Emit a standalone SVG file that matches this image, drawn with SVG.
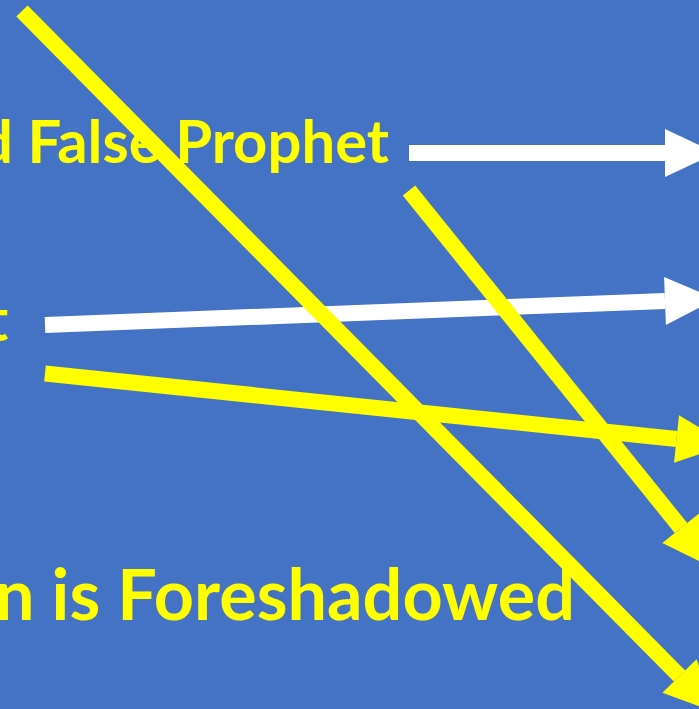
<svg xmlns="http://www.w3.org/2000/svg" width="699" height="709" viewBox="0 0 699 709">
<style>
.lbl{font-family:"Lato","Open Sans","Liberation Sans",sans-serif;font-weight:bold;fill:#FFFF00}
.w{stroke:#FFFFFF;stroke-width:16;fill:none}
.y{stroke:#FFFF00;stroke-width:16;fill:none}
</style>
<defs>
<marker id="hw" markerWidth="51" markerHeight="48" refX="0" refY="24" orient="auto" markerUnits="userSpaceOnUse" overflow="visible"><path d="M0,0 L51,24 L0,48 Z" fill="#FFFFFF"/></marker>
<marker id="hy" markerWidth="51" markerHeight="48" refX="0" refY="24" orient="auto" markerUnits="userSpaceOnUse" overflow="visible"><path d="M0,0 L51,24 L0,48 Z" fill="#FFFF00"/></marker>
</defs>
<rect width="699" height="709" fill="#4472C4"/>
<g id="label-false-prophet"><text class="lbl" x="-21" y="163" font-size="60" textLength="410" lengthAdjust="spacingAndGlyphs">d False Prophet</text></g>
<g id="label-t"><text class="lbl" x="-14" y="341" font-size="60">t</text></g>
<g id="label-foreshadowed"><text class="lbl" x="-5" y="620" font-size="71" textLength="580" lengthAdjust="spacingAndGlyphs">n is Foreshadowed</text></g>
<g id="connectors">
<line class="w" x1="409" y1="153" x2="665" y2="153" marker-end="url(#hw)"/>
<line class="w" x1="45" y1="325" x2="665" y2="301" marker-end="url(#hw)"/>
<line class="y" x1="45" y1="373.5" x2="676.5" y2="439" marker-end="url(#hy)"/>
<line class="y" x1="409" y1="190.5" x2="681" y2="528" marker-end="url(#hy)"/>
<line class="y" x1="22" y1="11" x2="679.5" y2="676" marker-end="url(#hy)"/>
</g>
</svg>
